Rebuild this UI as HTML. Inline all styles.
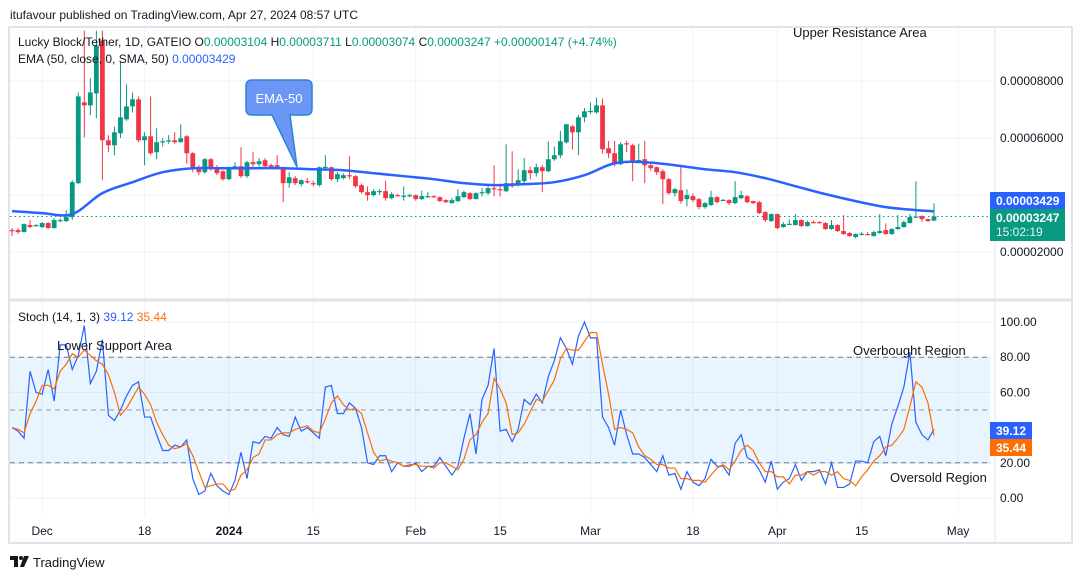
<!DOCTYPE html>
<html><head><meta charset="utf-8">
<style>
html,body{margin:0;padding:0;background:#fff;}
body{width:1080px;height:579px;overflow:hidden;position:relative;font-family:"Liberation Sans",sans-serif;}
svg text{font-family:"Liberation Sans",sans-serif;}
</style></head>
<body>
<svg id="c" width="1080" height="579" xmlns="http://www.w3.org/2000/svg">
  <text x="10" y="19" font-size="12" fill="#131722">itufavour published on TradingView.com, Apr 27, 2024 08:57 UTC</text>
  <rect x="9" y="27" width="1063" height="516" fill="#fff" stroke="#e0e3eb" stroke-width="2"/>
  <g id="grid"></g>
  <rect x="10" y="357" width="980" height="107" fill="#2196f3" fill-opacity="0.1"/>
  <g id="bands"></g>
  <g id="candles"></g>
  <path id="ema" fill="none" stroke="#2962ff" stroke-width="2.5"/>
  <line x1="10" x2="990" id="lastline" stroke="#089981" stroke-dasharray="1.5,3" stroke-width="1"/>
  <polyline id="kline" fill="none" stroke="#2962ff" stroke-width="1.2"/>
  <polyline id="dline" fill="none" stroke="#ff6d00" stroke-width="1.2"/>
  <line x1="10" x2="1071" y1="300" y2="300" stroke="#e0e3eb" stroke-width="3"/>
  <line x1="995" x2="995" y1="28" y2="542" stroke="#e0e3eb" stroke-width="1"/>
  <g id="axes" font-size="12" fill="#131722"></g>

  <g font-size="12">
    <text x="18" y="46" fill="#131722">Lucky Block/Tether, 1D, GATEIO  <tspan>O</tspan><tspan fill="#089981">0.00003104</tspan>  <tspan>H</tspan><tspan fill="#089981">0.00003711</tspan>  <tspan>L</tspan><tspan fill="#089981">0.00003074</tspan>  <tspan>C</tspan><tspan fill="#089981">0.00003247</tspan>  <tspan fill="#089981">+0.00000147 (+4.74%)</tspan></text>
    <text x="18" y="63" fill="#131722">EMA (50, close, 0, SMA, 50)  <tspan fill="#2962ff">0.00003429</tspan></text>
    <text x="18" y="321" fill="#131722">Stoch (14, 1, 3)  <tspan fill="#2962ff">39.12</tspan>  <tspan fill="#ff6d00">35.44</tspan></text>
  </g>
  <text x="793" y="37" font-size="13" fill="#131722">Upper Resistance Area</text>
  <text x="57" y="350" font-size="13" fill="#131722">Lower Support Area</text>
  <text x="853" y="355" font-size="13" fill="#131722">Overbought Region</text>
  <text x="890" y="482" font-size="13" fill="#131722">Oversold Region</text>

  <g>
    <path d="M252,80 H306 Q312,80 312,86 V109 Q312,115 306,115 H290 L297,167 L272,115 H252 Q246,115 246,109 V86 Q246,80 252,80 Z" fill="#6b96f5" stroke="#2a86d4" stroke-width="1.5"/>
    <text x="279" y="103" font-size="13" fill="#fff" text-anchor="middle">EMA-50</text>
  </g>

  <g>
    <rect x="990" y="192" width="75" height="17" fill="#2962ff"/>
    <text x="996" y="205" font-size="12" fill="#fff" font-weight="bold">0.00003429</text>
    <rect x="990" y="209" width="75" height="32" fill="#089981"/>
    <text x="996" y="222" font-size="12" fill="#fff" font-weight="bold">0.00003247</text>
    <text x="996" y="236" font-size="12" fill="#e6f5f1">15:02:19</text>
    <rect x="990" y="422" width="42" height="17" fill="#2962ff"/>
    <text x="996" y="435" font-size="12" fill="#fff" font-weight="bold">39.12</text>
    <rect x="990" y="439" width="42" height="17" fill="#ff6d00"/>
    <text x="996" y="452" font-size="12" fill="#fff" font-weight="bold">35.44</text>
  </g>

  <g>
    <path d="M10,556 h8 v11 h-4 v-7 h-4 z" fill="#131722"/>
    <circle cx="21" cy="558" r="2" fill="#131722"/>
    <path d="M24,556 h5 l-5,11 h-4 z" fill="#131722"/>
    <text x="33" y="567" font-size="13" fill="#131722">TradingView</text>
  </g>
</svg>
<script>
const opens=[2770,2770,2700,2945,2910,2875,3015,2840,3085,3085,3225,4415,7250,7145,7565,9420,5920,5745,6165,6655,7110,7355,5920,6060,5500,5850,5885,5920,5850,6060,5465,4975,4800,5255,4975,4835,4555,4905,5010,4660,5150,5080,5220,5045,5045,4940,4415,4590,4380,4485,4415,4345,4975,4975,4555,4590,4695,4660,4345,4100,3995,4135,4135,3890,3995,3960,3978,3995,3855,3942,3960,3925,3820,3715,3785,3925,4065,3855,4065,4065,4240,4205,4135,4415,4345,4485,4870,4765,4975,4835,5255,5395,5850,6410,6200,6725,6935,6900,7145,5640,5465,5080,5815,5745,5220,5255,5045,4975,4835,4555,4065,4170,3855,3960,3855,3575,3645,3925,3820,3820,3715,3890,3960,3785,3750,3400,3085,3330,2875,2980,2945,3120,2910,3050,3050,3015,2805,2945,2735,2665,2525,2630,2630,2560,2665,2770,2630,2805,2875,3015,3225,3260,3155,3104];
const closes=[2735,2700,2980,2875,2945,3015,2840,3120,3120,3225,4450,7460,7145,7600,9245,5920,5745,6200,6725,7110,7355,5920,6060,5465,5850,5885,5920,5850,5990,5465,4940,4800,5255,4905,4765,4555,4940,5010,4660,5150,5080,5185,5010,4975,4940,4415,4625,4415,4520,4450,4380,4975,4990,4555,4730,4695,4660,4310,4100,3995,4135,4140,3890,4030,3978,3978,3995,3855,3960,3960,3942,3785,3750,3820,3960,4100,3855,4065,4100,4240,4205,4170,4415,4310,4520,4870,4765,4975,4835,5255,5395,5885,6480,6200,6725,6935,6950,7145,5605,5465,5080,5780,5798,5185,5230,5045,4940,4800,4555,4065,4205,3785,3995,3820,3575,3715,3925,3750,3830,3715,3925,3995,3750,3715,3365,3120,3330,2840,2980,2990,3120,2910,3050,3033,3033,2805,2945,2735,2630,2560,2630,2640,2613,2700,2735,2630,2805,2875,3050,3225,3243,3155,3085,3247];
const highs=[2840,2840,3000,3120,2980,3050,3050,3200,3190,3470,4520,7600,9770,8100,9770,9770,6100,6400,8700,7880,7600,7460,6200,7460,6340,6000,6100,6200,6480,6100,5500,5050,5300,5300,5050,4870,5000,5150,5675,5200,5500,5300,5300,5100,5400,5000,4800,4660,4550,4600,4500,5000,5400,5000,4800,4760,5360,4700,4400,4300,4200,4200,4500,4100,4050,4300,4050,4020,4150,4100,3990,3950,3850,3900,4200,4150,4100,4100,4250,4300,5045,4400,5780,5535,4900,5300,5000,5100,5050,5885,5700,6250,6500,6450,6800,7050,7250,7425,7390,5900,5900,5850,5900,5800,5800,5900,5100,5000,4900,4600,4250,5010,4200,4050,3900,3750,4150,3960,3860,3850,4485,4150,3990,3800,3800,3430,3350,3350,3050,3150,3330,3150,3100,3100,3080,3050,3120,2980,3295,2700,2650,2700,2700,2750,3330,3000,2840,3295,3100,3330,4485,3290,3180,3711];
const lows=[2560,2630,2680,2840,2900,2840,2800,2820,3050,3050,3120,4380,6020,6800,6700,4520,5500,5395,6000,6600,6900,5850,5045,5400,5255,5700,5800,5800,5850,5100,4800,4700,4750,4850,4700,4500,4520,4900,4600,4600,4900,5000,4950,4900,4900,3750,4250,4350,4300,4400,4300,4300,4900,4500,4450,4550,4550,4250,4050,3800,3950,4000,3800,3850,3950,3800,3920,3800,3820,3900,3900,3760,3720,3700,3750,3900,3830,3850,3950,4000,3950,3950,4100,4250,4300,4400,4550,4650,4100,4800,5200,5300,5800,5600,5400,6550,6850,6850,5450,5300,5000,5050,5500,4485,5150,4415,4850,4700,3680,4000,3950,3700,3600,3750,3500,3520,3620,3700,3790,3650,3680,3850,3700,3680,3330,3050,3050,2800,2850,2950,2930,2880,2890,3000,3000,2780,2780,2700,2600,2530,2480,2580,2590,2540,2640,2600,2600,2780,2850,3000,3200,3050,3050,3074];
const emaIdx=[0,5,10,15,20,25,30,35,40,45,50,55,60,65,70,75,80,85,90,95,100,105,110,115,120,125,130,135,140,145,150,153];
const emaVals=[3435,3365,3330,4065,4450,4800,4940,4940,4940,4940,4905,4870,4765,4660,4555,4415,4345,4380,4450,4695,5115,5150,5045,4905,4800,4590,4310,4030,3785,3575,3470,3429];
const stochK=[40,38,34,72,60,59,73,55,87,87,73,81,98,65,72,90,47,44,50,58,64,66,46,46,36,27,27,30,29,33,11,2,4,14,7,4,2,10,26,11,32,31,35,34,40,36,35,46,38,40,37,34,63,64,48,48,54,51,40,20,19,24,24,15,20,18,18,20,15,18,18,23,18,13,18,34,48,25,56,64,85,38,39,32,39,56,53,59,54,69,78,91,85,76,92,100,91,91,46,40,30,50,36,25,25,23,19,15,24,13,14,5,15,9,7,11,22,18,18,13,31,36,23,21,16,9,21,5,9,11,19,10,15,15,16,8,20,6,6,8,21,21,20,32,35,24,42,52,63,83,43,36,33,39.12];
const stochD=[40,39,37,48,55,64,64,62,72,76,82,80,84,81,78,76,70,60,47,51,57,63,59,53,43,36,30,28,29,31,24,15,6,7,8,8,4,5,13,16,23,25,33,33,36,37,37,39,40,41,38,37,45,54,58,53,50,51,48,37,26,21,22,21,20,18,19,19,18,18,17,20,20,18,16,22,33,36,43,48,68,62,54,36,37,42,49,56,55,61,67,79,85,84,84,89,94,94,76,59,39,40,39,37,29,24,22,19,19,17,17,11,11,10,10,9,13,17,19,16,21,27,30,27,20,15,15,12,12,8,13,13,15,13,15,15,13,15,11,10,7,12,16,21,24,29,30,34,39,52,66,63,54,35.44];
const priceTicks=[20000,40000,60000,80000].map(v=>v/10);
const priceTickLabels=["0.00002000","0.00004000","0.00006000","0.00008000"];
const stochTicks=[0,20,60,80,100];
const stochTickLabels=["0.00","20.00","60.00","80.00","100.00"];
const dateIdx=[5,22,36,50,67,81,96,113,127,141,157];
const dateLabels=["Dec","18","2024","15","Feb","15","Mar","18","Apr","15","May"];
const stochBands=[80,50,20];

const NS="http://www.w3.org/2000/svg";
const X=i=>12+6.026*i;
const PY=p=>252-(p-2000)*57/2000;
const SY=v=>498-v*1.76;
function mk(tag,attrs,parent){const e=document.createElementNS(NS,tag);for(const k in attrs)e.setAttribute(k,attrs[k]);parent.appendChild(e);return e;}

const grid=document.getElementById('grid');
priceTicks.forEach(p=>{const l=mk('line',{x1:10,x2:995,y1:PY(p),y2:PY(p),stroke:'#f0f3fa'},grid);

});
stochTicks.forEach(v=>{const l=mk('line',{x1:10,x2:995,y1:SY(v),y2:SY(v),stroke:'#f0f3fa'},grid);

});
dateIdx.forEach(i=>{const l=mk('line',{x1:X(i),x2:X(i),y1:28,y2:515,stroke:'#f0f3fa'},grid);

});

const bands=document.getElementById('bands');
stochBands.forEach(v=>{const l=mk('line',{x1:10,x2:990,y1:SY(v),y2:SY(v),stroke:v===50?'#9598a1':'#787b86','stroke-dasharray':'5,4','stroke-width':1},bands);

});

const cg=document.getElementById('candles');
closes.forEach((c,i)=>{const o=opens[i];const col=c>=o?'#089981':'#f23645';const x=X(i);
const w=mk('line',{x1:x,x2:x,y1:PY(highs[i]),y2:PY(lows[i]),stroke:col,'stroke-width':1},cg);


const top=PY(Math.max(o,c)),bot=PY(Math.min(o,c));
const b=mk('rect',{x:x-2.4,y:top,width:4.8,height:Math.max(1.2,bot-top),fill:col},cg);

});

// smooth EMA path (Catmull-Rom)
const pts=emaIdx.map((i,k)=>[X(i),PY(emaVals[k])]);
let d='M'+pts[0][0]+','+pts[0][1];
for(let k=0;k<pts.length-1;k++){const p0=pts[Math.max(0,k-1)],p1=pts[k],p2=pts[k+1],p3=pts[Math.min(pts.length-1,k+2)];
const c1=[p1[0]+(p2[0]-p0[0])/6,p1[1]+(p2[1]-p0[1])/6],c2=[p2[0]-(p3[0]-p1[0])/6,p2[1]-(p3[1]-p1[1])/6];
d+=' C'+c1.join(',')+' '+c2.join(',')+' '+p2.join(',');}
document.getElementById('ema').setAttribute('d',d);

const last=closes[closes.length-1];
const ll=document.getElementById('lastline');ll.setAttribute('y1',PY(last));ll.setAttribute('y2',PY(last));
document.getElementById('kline').setAttribute('points',stochK.map((v,i)=>X(i)+','+SY(v)).join(' '));
document.getElementById('dline').setAttribute('points',stochD.map((v,i)=>X(i)+','+SY(v)).join(' '));

const ax=document.getElementById('axes');
priceTicks.forEach((p,k)=>{if(p===4000)return;const t=mk('text',{x:1000,y:PY(p)+4},ax);t.textContent=priceTickLabels[k];

});
stochTicks.forEach((v,k)=>{const t=mk('text',{x:1000,y:SY(v)+4},ax);t.textContent=stochTickLabels[k];

});
dateIdx.forEach((i,k)=>{const t=mk('text',{x:X(i),y:535,'text-anchor':'middle'},ax);t.textContent=dateLabels[k];
if(dateLabels[k]==='2024')t.setAttribute('font-weight','bold');

});
</script>
</body></html>
